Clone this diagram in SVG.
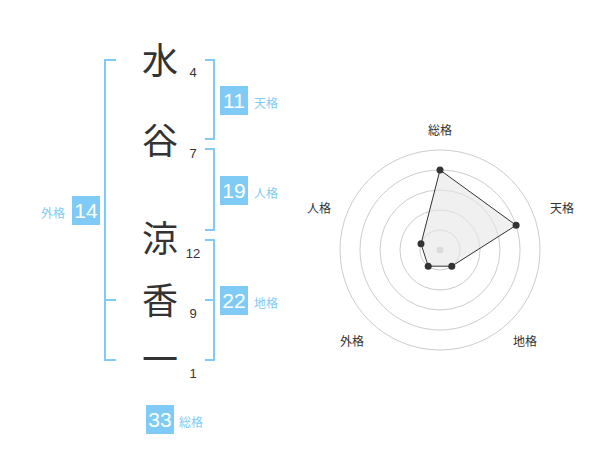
<svg xmlns="http://www.w3.org/2000/svg" width="600" height="470" viewBox="0 0 600 470">
<style>
.k{font-family:"Noto Sans CJK JP","Noto Sans CJK SC",sans-serif;font-size:36px;fill:#333;text-anchor:middle}
.s{font-family:"Liberation Sans",Arial,sans-serif;font-size:13px;fill:#333;text-anchor:middle}
.br{fill:none;stroke:#80cbf5;stroke-width:2}
.bx{fill:#80cbf5}
.bn{font-family:"Liberation Sans",Arial,sans-serif;font-size:21px;fill:#fff;text-anchor:middle}
.bl{font-family:"Noto Sans CJK JP","Noto Sans CJK SC",sans-serif;font-size:12px;fill:#80cbf5}
.ax{font-family:"Noto Sans CJK JP","Noto Sans CJK SC",sans-serif;font-size:12px;fill:#333;text-anchor:middle}
.rc{fill:none;stroke:#ccc;stroke-width:1}
.pt{fill:#333}
</style>
<g id="connectors">
<path class="br" d="M116,60 H105 V360 H116 M105,300 H116"/>
<path class="br" d="M205,60 H214 V139 H205"/>
<path class="br" d="M205,149 H214 V230 H205"/>
<path class="br" d="M205,240 H214 V360 H205 M214,300 H205"/>
</g>
<g id="chars">
<text class="k" x="160" y="74">水</text>
<text class="k" x="160" y="154">谷</text>
<text class="k" x="160" y="252">涼</text>
<text class="k" x="160" y="314">香</text>
<text class="k" x="160" y="373">一</text>
<text class="s" x="193" y="77">4</text>
<text class="s" x="193" y="158">7</text>
<text class="s" x="193" y="258">12</text>
<text class="s" x="193" y="318">9</text>
<text class="s" x="193" y="378">1</text>
</g>
<g id="tenkaku"><rect class="bx" x="220" y="86" width="28" height="29"/><text class="bn" x="234" y="108">11</text><text class="bl" x="254" y="108">天格</text></g>
<g id="jinkaku"><rect class="bx" x="220" y="176" width="28" height="29"/><text class="bn" x="234" y="198">19</text><text class="bl" x="254" y="198">人格</text></g>
<g id="chikaku"><rect class="bx" x="220" y="286" width="28" height="29"/><text class="bn" x="234" y="308">22</text><text class="bl" x="254" y="308">地格</text></g>
<g id="gaikaku"><rect class="bx" x="72" y="196" width="28" height="29"/><text class="bn" x="86" y="218">14</text><text class="bl" x="41" y="218">外格</text></g>
<g id="soukaku"><rect class="bx" x="146" y="405" width="28" height="29"/><text class="bn" x="160" y="427">33</text><text class="bl" x="179" y="427">総格</text></g>
<g id="radar">
<circle class="rc" cx="440" cy="250" r="20"/>
<circle class="rc" cx="440" cy="250" r="40"/>
<circle class="rc" cx="440" cy="250" r="60"/>
<circle class="rc" cx="440" cy="250" r="80"/>
<circle class="rc" cx="440" cy="250" r="100"/>
<circle cx="440" cy="250" r="3.5" fill="#ccc"/>
<polygon points="440,170 516.1,225.3 451.8,266.2 428.2,266.2 421,243.8" fill="#e6e6e6" fill-opacity="0.6" stroke="#333" stroke-width="1"/>
<circle class="pt" cx="440" cy="170" r="3.5"/>
<circle class="pt" cx="516.1" cy="225.3" r="3.5"/>
<circle class="pt" cx="451.8" cy="266.2" r="3.5"/>
<circle class="pt" cx="428.2" cy="266.2" r="3.5"/>
<circle class="pt" cx="421" cy="243.8" r="3.5"/>
<text class="ax" x="440" y="135">総格</text>
<text class="ax" x="562" y="213">天格</text>
<text class="ax" x="319" y="213">人格</text>
<text class="ax" x="352" y="346">外格</text>
<text class="ax" x="525" y="346">地格</text>
</g>
</svg>
